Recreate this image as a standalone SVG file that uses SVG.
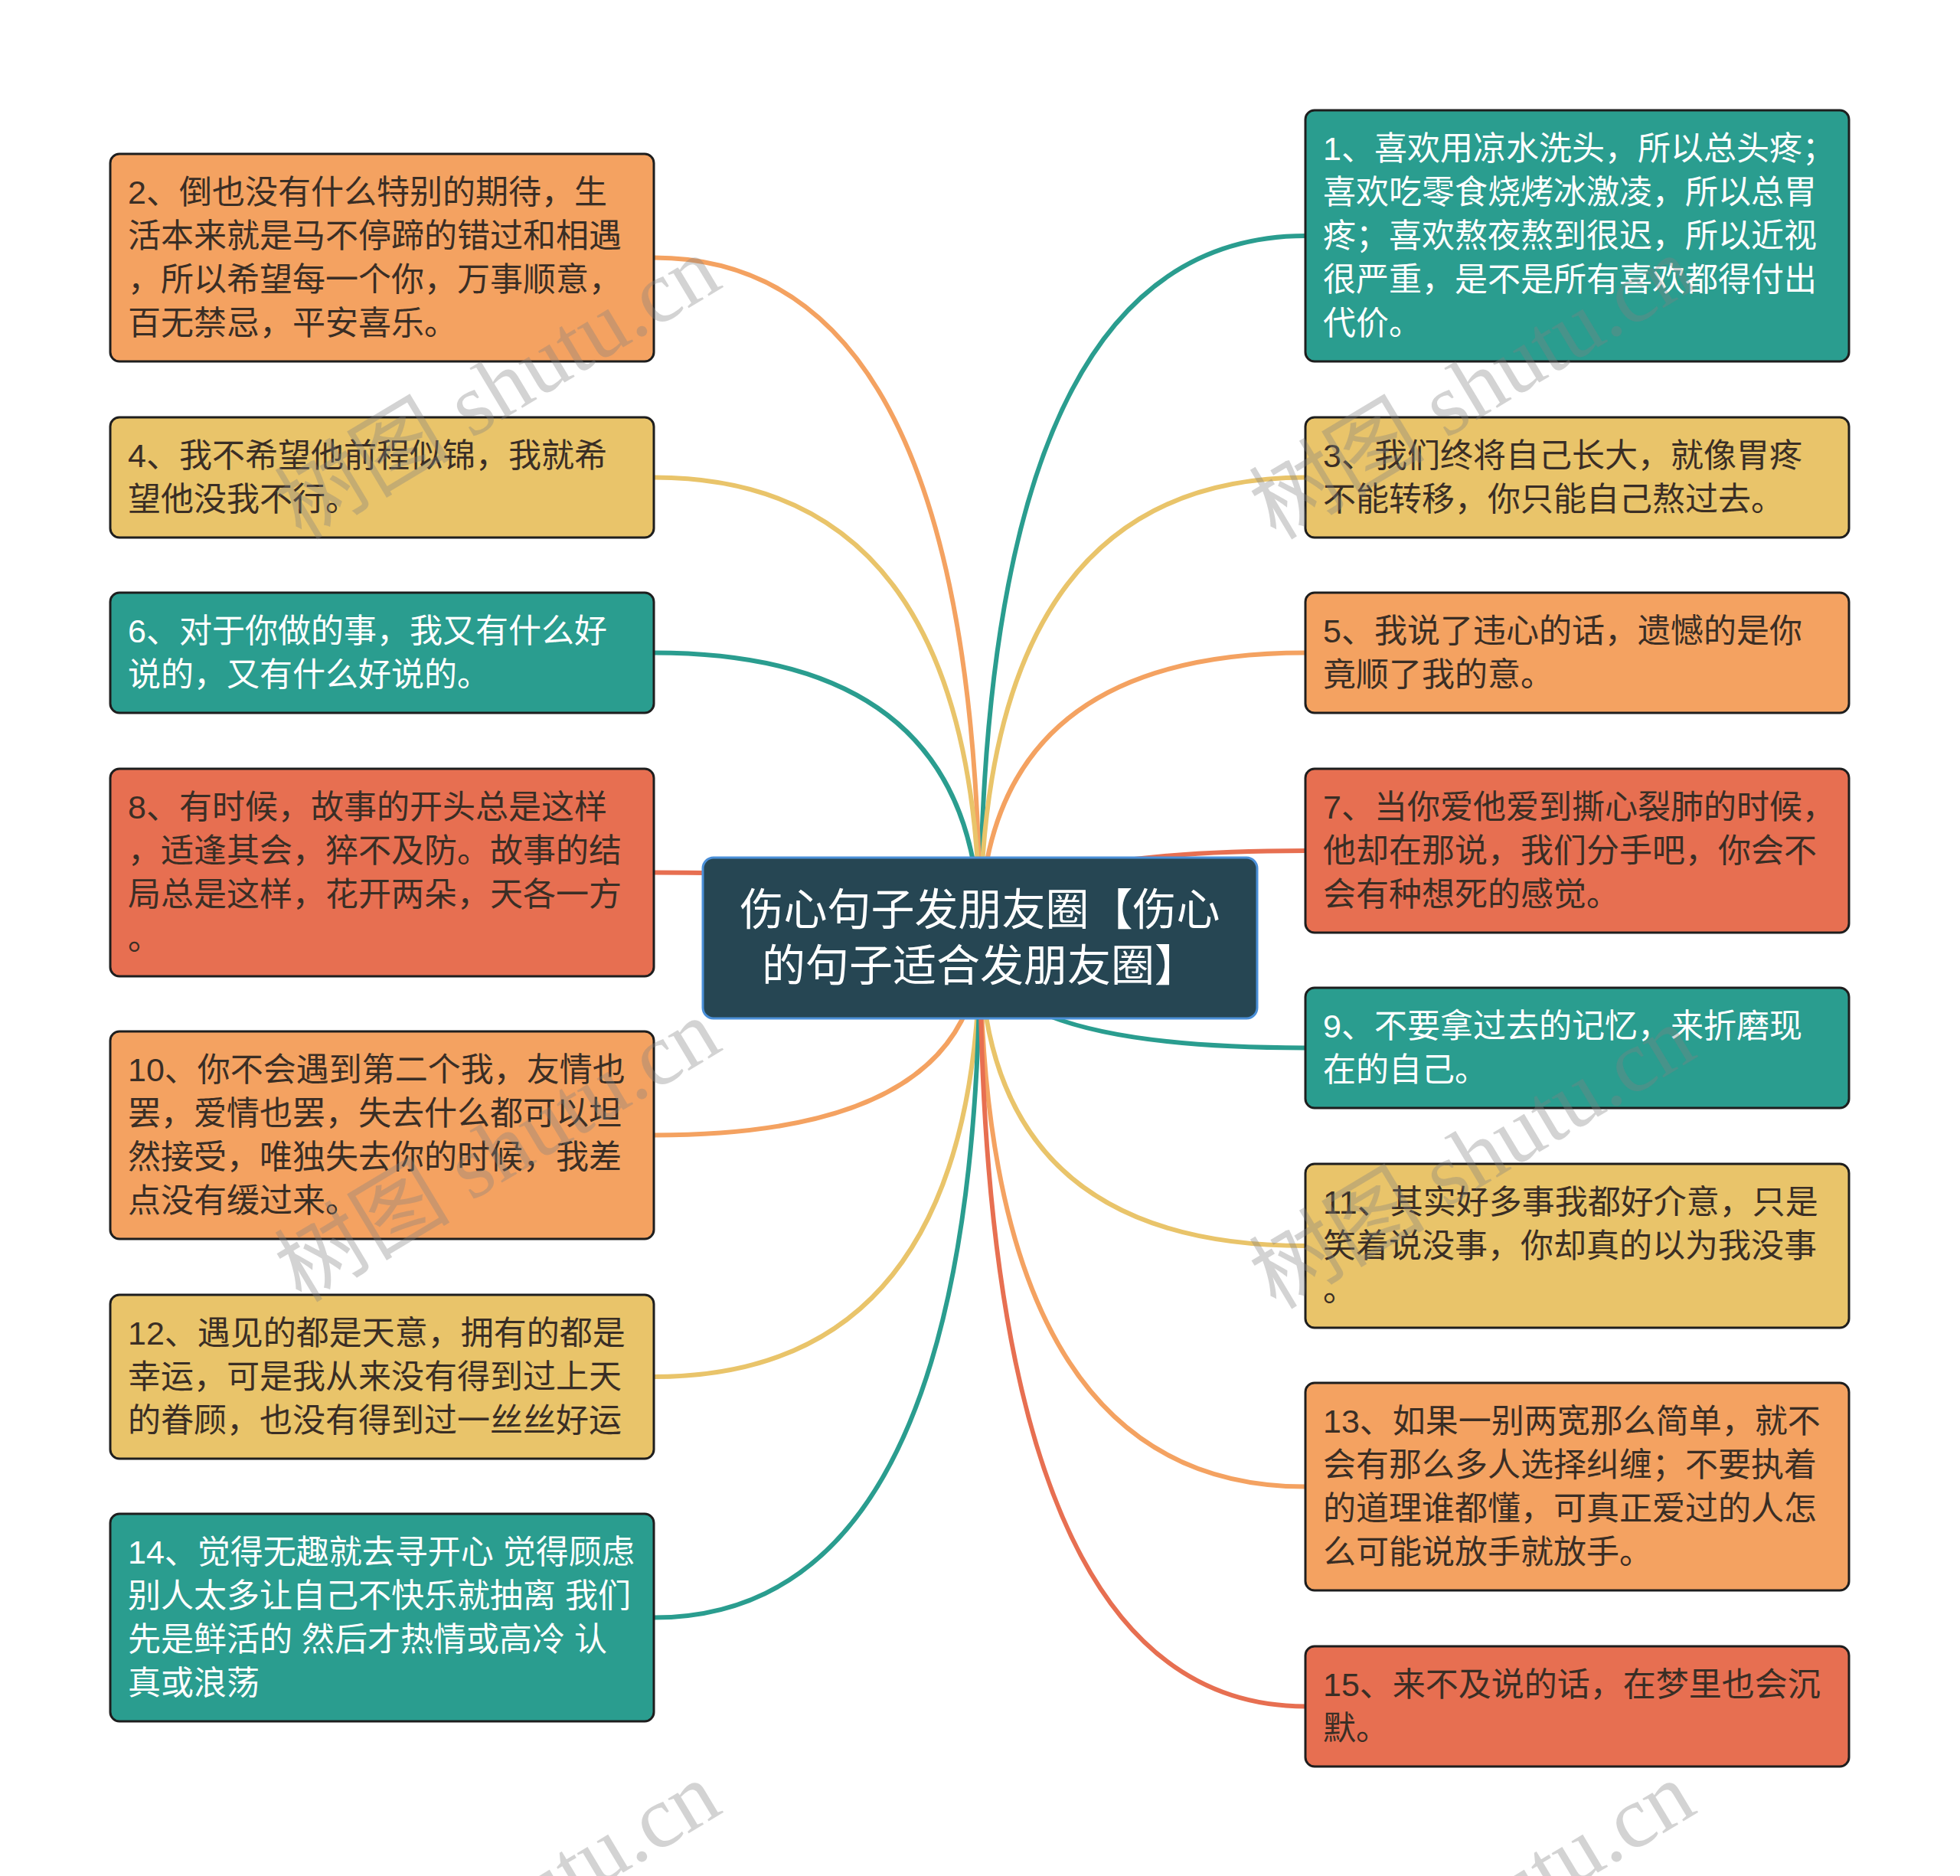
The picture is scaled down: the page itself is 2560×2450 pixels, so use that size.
<svg xmlns="http://www.w3.org/2000/svg" width="2560" height="2450" viewBox="0 0 2560 2450">
<style>
.box{stroke:#1e1e1e;stroke-width:3}
.org{fill:#F4A261}.yel{fill:#E9C46A}.teal{fill:#2A9D8F}.red{fill:#E76F51}
.t{font-family:"Liberation Sans","Noto Sans CJK SC",sans-serif;font-size:43px}
.dk{fill:#3a2e25}.wt{fill:#ffffff}
.c{fill:none;stroke-width:6;stroke-linecap:round}
.co{stroke:#F4A261}.cy{stroke:#E9C46A}.ct{stroke:#2A9D8F}.cr{stroke:#E76F51}
.wm{font-family:"Liberation Serif","Noto Sans CJK SC",serif;font-size:115px;fill:#808080;fill-opacity:0.35}
</style>
<rect width="2560" height="2450" fill="#ffffff"/>
<g id="connectors">
<path class="c ct" d="M1280 1225 Q1280 308 1705 308"/>
<path class="c co" d="M1280 1225 Q1280 336.5 854 336.5"/>
<path class="c cy" d="M1280 1225 Q1280 623.5 1705 623.5"/>
<path class="c cy" d="M1280 1225 Q1280 623.5 854 623.5"/>
<path class="c co" d="M1280 1225 Q1280 852.5 1705 852.5"/>
<path class="c ct" d="M1280 1225 Q1280 852.5 854 852.5"/>
<path class="c cr" d="M1280 1225 Q1280 1111 1705 1111"/>
<path class="c cr" d="M1280 1225 Q1280 1139.5 854 1139.5"/>
<path class="c ct" d="M1280 1225 Q1280 1368.5 1705 1368.5"/>
<path class="c co" d="M1280 1225 Q1280 1482.5 854 1482.5"/>
<path class="c cy" d="M1280 1225 Q1280 1627 1705 1627"/>
<path class="c cy" d="M1280 1225 Q1280 1798 854 1798"/>
<path class="c co" d="M1280 1225 Q1280 1941.5 1705 1941.5"/>
<path class="c ct" d="M1280 1225 Q1280 2112.5 854 2112.5"/>
<path class="c cr" d="M1280 1225 Q1280 2228.5 1705 2228.5"/>
</g>
<g id="center">
<rect x="918" y="1120" width="724" height="210" rx="14" fill="#264653" stroke="#4a8fd8" stroke-width="3"/>
<text class="wt" font-family="Liberation Sans,Noto Sans CJK SC,sans-serif" font-size="57" text-anchor="middle"><tspan x="1280" y="1208">伤心句子发朋友圈【伤心</tspan><tspan x="1280" y="1281">的句子适合发朋友圈】</tspan></text>
</g>
<g id="n1"><rect class="box teal" x="1705" y="144" width="710" height="328" rx="12"/>
<text class="t wt"><tspan x="1728" y="209">1、喜欢用凉水洗头，所以总头疼；</tspan><tspan x="1728" y="266">喜欢吃零食烧烤冰激凌，所以总胃</tspan><tspan x="1728" y="323">疼；喜欢熬夜熬到很迟，所以近视</tspan><tspan x="1728" y="380">很严重，是不是所有喜欢都得付出</tspan><tspan x="1728" y="437">代价。</tspan></text></g>
<g id="n2"><rect class="box org" x="144" y="201" width="710" height="271" rx="12"/>
<text class="t dk"><tspan x="167" y="266">2、倒也没有什么特别的期待，生</tspan><tspan x="167" y="323">活本来就是马不停蹄的错过和相遇</tspan><tspan x="167" y="380">，所以希望每一个你，万事顺意，</tspan><tspan x="167" y="437">百无禁忌，平安喜乐。</tspan></text></g>
<g id="n3"><rect class="box yel" x="1705" y="545" width="710" height="157" rx="12"/>
<text class="t dk"><tspan x="1728" y="610">3、我们终将自己长大，就像胃疼</tspan><tspan x="1728" y="667">不能转移，你只能自己熬过去。</tspan></text></g>
<g id="n4"><rect class="box yel" x="144" y="545" width="710" height="157" rx="12"/>
<text class="t dk"><tspan x="167" y="610">4、我不希望他前程似锦，我就希</tspan><tspan x="167" y="667">望他没我不行。</tspan></text></g>
<g id="n5"><rect class="box org" x="1705" y="774" width="710" height="157" rx="12"/>
<text class="t dk"><tspan x="1728" y="839">5、我说了违心的话，遗憾的是你</tspan><tspan x="1728" y="896">竟顺了我的意。</tspan></text></g>
<g id="n6"><rect class="box teal" x="144" y="774" width="710" height="157" rx="12"/>
<text class="t wt"><tspan x="167" y="839">6、对于你做的事，我又有什么好</tspan><tspan x="167" y="896">说的，又有什么好说的。</tspan></text></g>
<g id="n7"><rect class="box red" x="1705" y="1004" width="710" height="214" rx="12"/>
<text class="t dk"><tspan x="1728" y="1069">7、当你爱他爱到撕心裂肺的时候，</tspan><tspan x="1728" y="1126">他却在那说，我们分手吧，你会不</tspan><tspan x="1728" y="1183">会有种想死的感觉。</tspan></text></g>
<g id="n8"><rect class="box red" x="144" y="1004" width="710" height="271" rx="12"/>
<text class="t dk"><tspan x="167" y="1069">8、有时候，故事的开头总是这样</tspan><tspan x="167" y="1126">，适逢其会，猝不及防。故事的结</tspan><tspan x="167" y="1183">局总是这样，花开两朵，天各一方</tspan><tspan x="167" y="1240">。</tspan></text></g>
<g id="n9"><rect class="box teal" x="1705" y="1290" width="710" height="157" rx="12"/>
<text class="t wt"><tspan x="1728" y="1355">9、不要拿过去的记忆，来折磨现</tspan><tspan x="1728" y="1412">在的自己。</tspan></text></g>
<g id="n10"><rect class="box org" x="144" y="1347" width="710" height="271" rx="12"/>
<text class="t dk"><tspan x="167" y="1412">10、你不会遇到第二个我，友情也</tspan><tspan x="167" y="1469">罢，爱情也罢，失去什么都可以坦</tspan><tspan x="167" y="1526">然接受，唯独失去你的时候，我差</tspan><tspan x="167" y="1583">点没有缓过来。</tspan></text></g>
<g id="n11"><rect class="box yel" x="1705" y="1520" width="710" height="214" rx="12"/>
<text class="t dk"><tspan x="1728" y="1585">11、其实好多事我都好介意，只是</tspan><tspan x="1728" y="1642">笑着说没事，你却真的以为我没事</tspan><tspan x="1728" y="1699">。</tspan></text></g>
<g id="n12"><rect class="box yel" x="144" y="1691" width="710" height="214" rx="12"/>
<text class="t dk"><tspan x="167" y="1756">12、遇见的都是天意，拥有的都是</tspan><tspan x="167" y="1813">幸运，可是我从来没有得到过上天</tspan><tspan x="167" y="1870">的眷顾，也没有得到过一丝丝好运</tspan></text></g>
<g id="n13"><rect class="box org" x="1705" y="1806" width="710" height="271" rx="12"/>
<text class="t dk"><tspan x="1728" y="1871">13、如果一别两宽那么简单，就不</tspan><tspan x="1728" y="1928">会有那么多人选择纠缠；不要执着</tspan><tspan x="1728" y="1985">的道理谁都懂，可真正爱过的人怎</tspan><tspan x="1728" y="2042">么可能说放手就放手。</tspan></text></g>
<g id="n14"><rect class="box teal" x="144" y="1977" width="710" height="271" rx="12"/>
<text class="t wt"><tspan x="167" y="2042">14、觉得无趣就去寻开心 觉得顾虑</tspan><tspan x="167" y="2099">别人太多让自己不快乐就抽离 我们</tspan><tspan x="167" y="2156">先是鲜活的 然后才热情或高冷 认</tspan><tspan x="167" y="2213">真或浪荡</tspan></text></g>
<g id="n15"><rect class="box red" x="1705" y="2150" width="710" height="157" rx="12"/>
<text class="t dk"><tspan x="1728" y="2215">15、来不及说的话，在梦里也会沉</tspan><tspan x="1728" y="2272">默。</tspan></text></g>
<g id="watermarks">
<text class="wm" text-anchor="middle" transform="translate(670 540) rotate(-31)">树图 shutu.cn</text>
<text class="wm" text-anchor="middle" transform="translate(1943 540) rotate(-31)">树图 shutu.cn</text>
<text class="wm" text-anchor="middle" transform="translate(670 1536) rotate(-31)">树图 shutu.cn</text>
<text class="wm" text-anchor="middle" transform="translate(1943 1545) rotate(-31)">树图 shutu.cn</text>
<text class="wm" text-anchor="middle" transform="translate(670 2532) rotate(-31)">树图 shutu.cn</text>
<text class="wm" text-anchor="middle" transform="translate(1943 2532) rotate(-31)">树图 shutu.cn</text>
</g>
</svg>
